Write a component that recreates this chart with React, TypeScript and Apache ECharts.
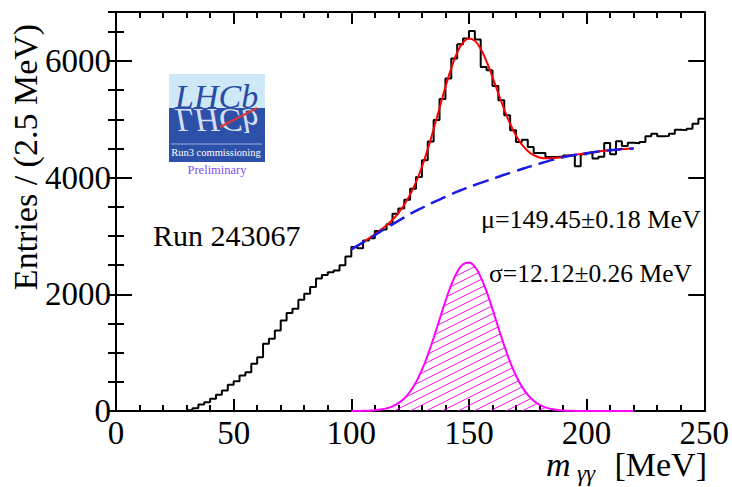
import React, { useEffect, useRef } from 'react';
import * as echarts from 'echarts';

// ---------- data ----------
const BIN_WIDTH = 2.5; // MeV
const X_MIN = 0;
const X_MAX = 250;
const Y_MAX = 6840;

// entries per 2.5 MeV bin, bins starting at 0, 2.5, 5, ... 247.5
const HIST_COUNTS = [
  0, 0, 0, 0, 0, 0, 0, 0, 0, 0,
  0, 0, 14, 48, 111, 151, 209, 277, 351, 449,
  511, 609, 666, 809, 923, 1153, 1238, 1381, 1552, 1678,
  1753, 1907, 2010, 2124, 2270, 2330, 2380, 2410, 2500, 2650,
  2810, 2790, 2925, 2960, 3084, 3110, 3200, 3382, 3470, 3622,
  3811, 4010, 4300, 4620, 4990, 5350, 5698, 6041, 6286, 6384,
  6515, 6367, 5897, 5840, 5570, 5326, 5069, 4811, 4611, 4650,
  4525, 4422, 4422, 4353, 4353, 4365, 4382, 4382, 4194, 4400,
  4420, 4330, 4360, 4594, 4400, 4623, 4543, 4600, 4590, 4610,
  4709, 4754, 4709, 4715, 4754, 4823, 4815, 4840, 4926, 5012,
];

// fit curves (read at 2.5 MeV steps from 100 to 220 MeV)
const FIT_X = [
  100, 102.5, 105, 107.5, 110, 112.5, 115, 117.5, 120, 122.5,
  125, 127.5, 130, 132.5, 135, 137.5, 140, 142.5, 145, 147.5,
  150, 152.5, 155, 157.5, 160, 162.5, 165, 167.5, 170, 172.5,
  175, 177.5, 180, 182.5, 185, 187.5, 190, 192.5, 195, 197.5,
  200, 202.5, 205, 207.5, 210, 212.5, 215, 217.5, 220,
];
const TOTAL_FIT = [
  2771, 2831, 2893, 2961, 3028, 3105, 3185, 3279, 3394, 3535,
  3714, 3924, 4184, 4489, 4833, 5193, 5552, 5879, 6144, 6317,
  6387, 6345, 6206, 5990, 5726, 5443, 5170, 4924, 4721, 4566,
  4457, 4385, 4347, 4332, 4335, 4343, 4359, 4374, 4392, 4406,
  4420, 4435, 4450, 4460, 4470, 4480, 4490, 4495, 4500,
];
const SIGNAL_FIT = [
  1, 1, 3, 6, 13, 25, 45, 79, 134, 215,
  334, 494, 704, 959, 1253, 1568, 1882, 2164, 2384, 2517,
  2547, 2470, 2296, 2045, 1746, 1428, 1120, 841, 606, 418,
  277, 175, 107, 62, 35, 18, 9, 4, 2, 1,
  0, 0, 0, 0, 0, 0, 0, 0, 0,
];
const BKG_FIT = [
  2770, 2830, 2890, 2955, 3015, 3080, 3140, 3200, 3260, 3320,
  3380, 3430, 3480, 3530, 3580, 3625, 3670, 3715, 3760, 3800,
  3840, 3875, 3910, 3945, 3980, 4015, 4050, 4083, 4115, 4148,
  4180, 4210, 4240, 4270, 4300, 4325, 4350, 4370, 4390, 4405,
  4420, 4435, 4450, 4460, 4470, 4480, 4490, 4495, 4500,
];

const Y_TITLE = 'Entries / (2.5 MeV)';
const RUN_LABEL = 'Run 243067';
const MU_LABEL = 'μ=149.45±0.18 MeV';
const SIGMA_LABEL = 'σ=12.12±0.26 MeV';

const SERIF = "'Liberation Serif', 'Times New Roman', serif";

function hatchPattern(): any {
  const w = 16;
  const h = 8;
  const c = document.createElement('canvas');
  c.width = w;
  c.height = h;
  const ctx = c.getContext('2d')!;
  ctx.strokeStyle = 'rgba(220,0,220,0.9)';
  ctx.lineWidth = 1;
  for (const n of [-1, 0, 1]) {
    ctx.beginPath();
    ctx.moveTo(0, h + h * n);
    ctx.lineTo(w, h * n);
    ctx.stroke();
  }
  return { image: c.toDataURL(), repeat: 'repeat', imageWidth: w, imageHeight: h };
}

export default function App() {
  const ref = useRef<HTMLDivElement>(null);

  useEffect(() => {
    if (!ref.current) return;
    const chart = echarts.init(ref.current, undefined, { renderer: 'svg' });

    const histData: number[][] = HIST_COUNTS.map((v, i) => [X_MIN + i * BIN_WIDTH, v]);
    histData.push([X_MAX, HIST_COUNTS[HIST_COUNTS.length - 1]]);

    const totalData = FIT_X.map((x, i) => [x, TOTAL_FIT[i]]);
    const sigData = FIT_X.map((x, i) => [x, SIGNAL_FIT[i]]);
    const bkgData = FIT_X.map((x, i) => [x, BKG_FIT[i]]);

    const black = '#000';
    const axisLineStyle = { show: true, onZero: false, lineStyle: { color: black, width: 2 } };

    const xBase = {
      type: 'value',
      min: X_MIN,
      max: X_MAX,
      interval: 50,
      axisLine: axisLineStyle,
      axisTick: { show: true, inside: true, length: 12, lineStyle: { color: black, width: 2 } },
      minorTick: { show: true, splitNumber: 5, length: 6, lineStyle: { color: black, width: 2 } },
      splitLine: { show: false },
      minorSplitLine: { show: false },
    };

    const yMajor = {
      type: 'value',
      min: 0,
      max: Y_MAX,
      interval: 2000,
      axisLine: axisLineStyle,
      axisTick: { show: true, inside: true, length: 16, lineStyle: { color: black, width: 2 } },
      splitLine: { show: false },
    };
    const yMinor = {
      type: 'value',
      min: 0,
      max: Y_MAX,
      interval: 500,
      axisLine: { show: false },
      axisTick: { show: true, inside: true, length: 8, lineStyle: { color: black, width: 2 } },
      axisLabel: { show: false },
      splitLine: { show: false },
    };

    const option: any = {
      animation: false,
      backgroundColor: '#fff',
      grid: { left: 116, right: 25, top: 12, bottom: 76, containLabel: false },
      xAxis: [
        {
          ...xBase,
          position: 'bottom',
          axisLabel: {
            color: black,
            fontFamily: SERIF,
            fontSize: 33,
            margin: 5,
          },
        },
        { ...xBase, position: 'top', axisLabel: { show: false } },
      ],
      yAxis: [
        {
          ...yMajor,
          position: 'left',
          axisLabel: {
            color: black,
            fontFamily: SERIF,
            fontSize: 33,
            margin: 5,
            showMaxLabel: false,
            formatter: (v: number) => (v % 2000 === 0 ? String(v) : ''),
          },
        },
        { ...yMinor, position: 'left' },
        { ...yMajor, position: 'right', axisLabel: { show: false } },
        { ...yMinor, position: 'right' },
      ],
      series: [
        {
          type: 'line',
          name: 'data',
          step: 'end',
          data: histData,
          symbol: 'none',
          lineStyle: { color: black, width: 2 },
          z: 2,
        },
        {
          type: 'line',
          name: 'signal',
          data: sigData,
          smooth: true,
          symbol: 'none',
          lineStyle: { color: '#ff00ff', width: 2 },
          areaStyle: { color: hatchPattern(), opacity: 1 },
          z: 3,
        },
        {
          type: 'line',
          name: 'total',
          data: totalData,
          smooth: true,
          symbol: 'none',
          lineStyle: { color: '#ff0000', width: 2 },
          z: 4,
        },
        {
          type: 'line',
          name: 'background',
          data: bkgData,
          smooth: true,
          symbol: 'none',
          lineStyle: { color: '#1a1ae6', width: 2.5, type: [16, 7] },
          z: 5,
        },
      ],
      graphic: [
        // y axis title
        {
          type: 'text',
          x: 25,
          y: 157,
          rotation: Math.PI / 2,
          style: {
            text: Y_TITLE,
            fontFamily: SERIF,
            fontSize: 34,
            fill: black,
            align: 'center',
            verticalAlign: 'middle',
          },
        },
        // x axis title pieces
        {
          type: 'text',
          x: 546,
          y: 464,
          style: {
            text: 'm',
            fontFamily: SERIF,
            fontStyle: 'italic',
            fontSize: 34,
            fill: black,
            align: 'left',
            verticalAlign: 'middle',
          },
        },
        {
          type: 'text',
          x: 577,
          y: 473,
          style: {
            text: 'γγ',
            fontFamily: SERIF,
            fontStyle: 'italic',
            fontSize: 23,
            fill: black,
            align: 'left',
            verticalAlign: 'middle',
          },
        },
        {
          type: 'text',
          x: 707,
          y: 464,
          style: {
            text: '[MeV]',
            fontFamily: SERIF,
            fontSize: 34,
            fill: black,
            align: 'right',
            verticalAlign: 'middle',
          },
        },
        // annotations
        {
          type: 'text',
          x: 153,
          y: 235,
          style: {
            text: RUN_LABEL,
            fontFamily: SERIF,
            fontSize: 30,
            fill: black,
            align: 'left',
            verticalAlign: 'middle',
          },
        },
        {
          type: 'text',
          x: 481,
          y: 219,
          style: {
            text: MU_LABEL,
            fontFamily: SERIF,
            fontSize: 26,
            fill: black,
            align: 'left',
            verticalAlign: 'middle',
          },
        },
        {
          type: 'text',
          x: 489,
          y: 273,
          style: {
            text: SIGMA_LABEL,
            fontFamily: SERIF,
            fontSize: 25.5,
            fill: black,
            align: 'left',
            verticalAlign: 'middle',
          },
        },
        // LHCb logo
        {
          type: 'rect',
          shape: { x: 169, y: 74, width: 96, height: 34 },
          style: { fill: '#cfe8f7' },
        },
        {
          type: 'rect',
          shape: { x: 169, y: 108, width: 96, height: 54 },
          style: { fill: '#2d50a8' },
        },
        {
          type: 'text',
          x: 175,
          y: 113,
          style: {
            text: 'LHCb',
            fontFamily: SERIF,
            fontStyle: 'italic',
            fontSize: 34,
            fill: '#2a4ca5',
            align: 'left',
            verticalAlign: 'bottom',
          },
        },
        {
          type: 'text',
          x: 175,
          y: 103,
          scaleY: -1,
          originY: 0,
          style: {
            text: 'LHCb',
            fontFamily: SERIF,
            fontStyle: 'italic',
            fontSize: 34,
            fill: '#d4def3',
            align: 'left',
            verticalAlign: 'bottom',
          },
        },
        {
          type: 'line',
          shape: { x1: 220, y1: 127, x2: 257, y2: 108 },
          style: { stroke: '#e03535', lineWidth: 2 },
        },
        {
          type: 'line',
          shape: { x1: 171, y1: 144, x2: 262, y2: 144 },
          style: { stroke: '#9fb2e0', lineWidth: 1 },
        },
        {
          type: 'text',
          x: 216,
          y: 152,
          style: {
            text: 'Run3 commissioning',
            fontFamily: SERIF,
            fontSize: 10.5,
            fill: '#ffffff',
            align: 'center',
            verticalAlign: 'middle',
          },
        },
        {
          type: 'text',
          x: 217,
          y: 170,
          style: {
            text: 'Preliminary',
            fontFamily: SERIF,
            fontSize: 12.5,
            fill: '#7f4ff0',
            align: 'center',
            verticalAlign: 'middle',
          },
        },
      ],
    };

    chart.setOption(option);
    return () => chart.dispose();
  }, []);

  return (
    <div
      ref={ref}
      style={{ position: 'fixed', left: 0, top: 0, width: 732, height: 487, background: '#fff' }}
    />
  );
}
